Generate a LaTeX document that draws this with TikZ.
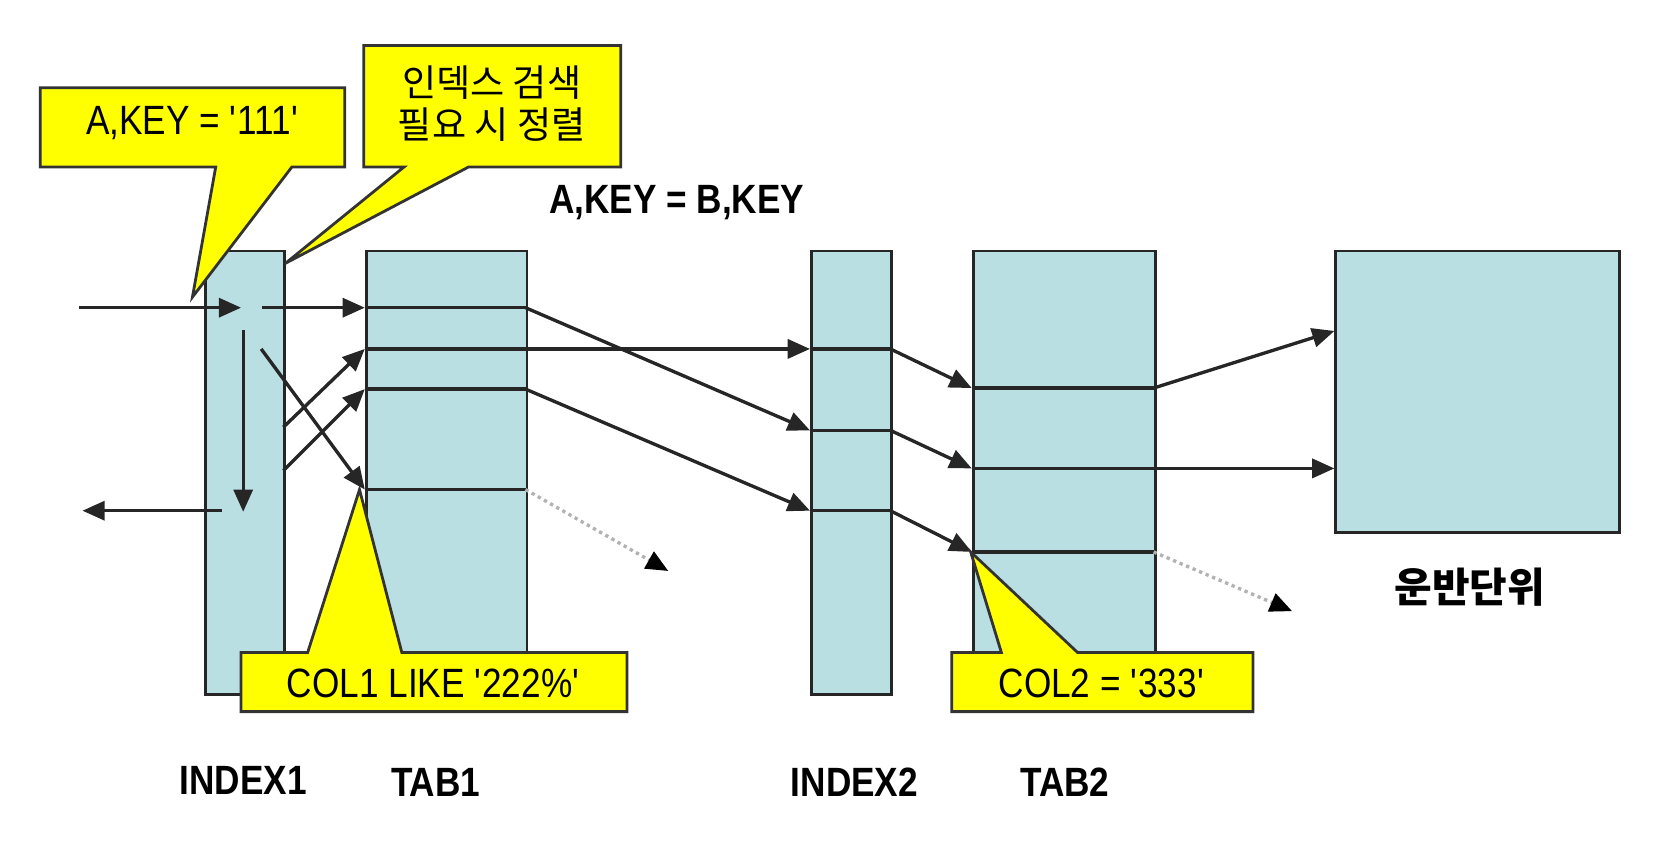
\documentclass[tikz,border=0pt]{standalone}
\usepackage{fontspec}
\setmainfont[FakeStretch=0.86]{Liberation Sans}
\newfontfamily\kor{Noto Sans CJK KR}
\usetikzlibrary{arrows.meta,positioning,calc}
\definecolor{boxblue}{RGB}{185,223,227}
\definecolor{noteyellow}{RGB}{255,255,0}

\begin{document}
\begin{tikzpicture}[x=0.01cm,y=-0.01cm,
    tbl/.style={draw=black!85, line width=0.75pt, fill=boxblue, anchor=north west, inner sep=0pt},
    row/.style={draw=black!85, line width=0.9pt},
    link/.style={draw=black!85, line width=0.9pt, -{Triangle[length=2.1mm,width=1.8mm]}},
    faint/.style={draw=gray!60, densely dotted, line width=0.9pt, -{Triangle[length=2.1mm,width=1.8mm,black]}},
    note/.style={draw=black!80, line width=0.75pt, fill=noteyellow, line join=miter},
    notetext/.style={font=\fontsize{11}{13}\selectfont},
    lbl/.style={font=\fontsize{11}{13}\selectfont\bfseries}]
    \useasboundingbox (0,0) rectangle (1568,798);

    % tables and indexes
    \node[tbl, minimum width=0.75cm, minimum height=4.19cm] (idx1) at (193,236) {};
    \node[tbl, minimum width=1.52cm, minimum height=4.19cm] (tab1) at (345,236) {};
    \node[tbl, minimum width=0.76cm, minimum height=4.19cm] (idx2) at (766,236) {};
    \node[tbl, minimum width=1.72cm, minimum height=4.19cm] (tab2) at (919,236) {};
    \node[tbl, minimum width=2.68cm, minimum height=2.66cm] (unit) at (1262,236) {};

    % rows
    \foreach \y/\n in {291/1,330/2,368/3,463/4} {
        \coordinate (t1w\n) at (345,\y);
        \coordinate (t1e\n) at (497,\y);
        \draw[row] (t1w\n) -- (t1e\n);
    }
    \foreach \y/\n in {330/1,407/2,483/3} {
        \coordinate (x2w\n) at (766,\y);
        \coordinate (x2e\n) at (842,\y);
        \draw[row] (x2w\n) -- (x2e\n);
    }
    \foreach \y/\n in {367/1,443/2,522/3} {
        \coordinate (t2w\n) at (919,\y);
        \coordinate (t2e\n) at (1091,\y);
        \draw[row] (t2w\n) -- (t2e\n);
    }

    % INDEX1 scan
    \coordinate (src) at (75,291);
    \coordinate (i1in) at (228,291);
    \coordinate (i1out) at (248,291);
    \coordinate (i1top) at (230,312);
    \coordinate (i1bot) at (230,484);
    \coordinate (i1back) at (210,483);
    \coordinate (ret) at (78,483);
    \coordinate (i1a) at (268,404);
    \coordinate (i1b) at (268,445);
    \coordinate (i1c) at (247,330);
    \draw[link] (src) -- (i1in);
    \draw[link] (i1out) -- (t1w1);
    \draw[link] (i1top) -- (i1bot);
    \draw[link] (i1back) -- (ret);
    \draw[link] (i1a) -- (t1w2);
    \draw[link] (i1b) -- (t1w3);
    \draw[link] (i1c) -- (t1w4);

    % TAB1 -> INDEX2 -> TAB2 -> unit
    \coordinate (lost1) at (632,540);
    \coordinate (lost2) at (1222,578);
    \coordinate (u1) at (1262,313);
    \coordinate (u2) at (1262,443);
    \draw[link] (t1e1) -- (x2w2);
    \draw[link] (t1e2) -- (x2w1);
    \draw[link] (t1e3) -- (x2w3);
    \draw[faint] (t1e4) -- (lost1);
    \draw[link] (x2e1) -- (t2w1);
    \draw[link] (x2e2) -- (t2w2);
    \draw[link] (x2e3) -- (t2w3);
    \draw[link] (t2e1) -- (u1);
    \draw[link] (t2e2) -- (u2);
    \draw[faint] (t2e3) -- (lost2);

    % labels
    \node[lbl] (l1) at (230,738) {INDEX1};
    \node[lbl] (l2) at (412,740) {TAB1};
    \node[lbl] (l3) at (808,740) {INDEX2};
    \node[lbl] (l4) at (1007,740) {TAB2};
    \node[lbl] (join) at (640,192) {A,KEY = B,KEY};
    \node[font=\kor\fontsize{11}{13}\selectfont\bfseries] (l5) at (1390,555) {운반단위};

    % callouts
    \draw[note] (38,83) -- (326,83) -- (326,158) -- (276,158) -- (182,281) -- (204,158) -- (38,158) -- cycle;
    \node[notetext] (n1) at (182,116) {A,KEY = \textquotesingle 111\textquotesingle};
    \draw[note] (344,43) -- (587,43) -- (587,158) -- (443,158) -- (270,249) -- (382,158) -- (344,158) -- cycle;
    \node[font=\kor\fontsize{10}{11.5}\selectfont, align=center] (n2) at (465,98) {인덱스 검색\\필요 시 정렬};
    \draw[note] (228,617) -- (291,617) -- (340,463) -- (380,617) -- (593,617) -- (593,673) -- (228,673) -- cycle;
    \node[notetext] (n3) at (410,646) {COL1 LIKE \textquotesingle 222\%\textquotesingle};
    \draw[note] (900,617) -- (947,617) -- (918,522) -- (1019,617) -- (1185,617) -- (1185,673) -- (900,673) -- cycle;
    \node[notetext] (n4) at (1042,646) {COL2 = \textquotesingle 333\textquotesingle};
\end{tikzpicture}
\end{document}
